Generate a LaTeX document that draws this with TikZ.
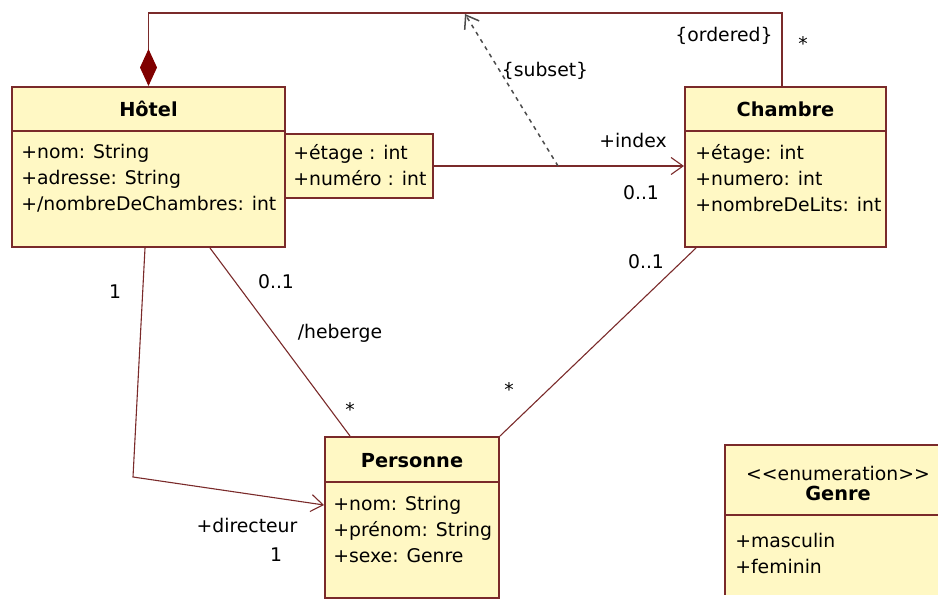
\documentclass[tikz,border=0pt]{standalone}
\usepackage{fontspec}
\setmainfont{DejaVu Sans}
\usepackage{tikz}
\usetikzlibrary{arrows.meta}

\definecolor{classfill}{HTML}{FFF8C4}
\definecolor{classline}{HTML}{7A2A2A}
\definecolor{compo}{HTML}{800000}

\begin{document}
\begin{tikzpicture}[x=0.2mm,y=-0.2mm,
    font=\fontsize{10.7}{14}\selectfont,
    classbox/.style={draw=classline, fill=classfill, line width=0.4mm, inner sep=0pt},
    sepline/.style={draw=classline, line width=0.4mm},
    title/.style={anchor=base, inner sep=0pt, font=\fontsize{11}{13}\selectfont\bfseries},
    attr/.style={anchor=base west, inner sep=0pt},
    lbl/.style={inner sep=0pt},
    assoc/.style={draw=classline, line width=0.22mm},
    navig/.style={assoc, -{Straight Barb[length=2.4mm,width=3.4mm]}}
  ]
  \useasboundingbox (0,0) rectangle (938,603);

  % classes
  \node[classbox, minimum width=54.6mm, minimum height=32mm] (hotel) at (148.5,167) {};
  \node[classbox, minimum width=29.6mm, minimum height=12.8mm] (qual) at (359,166) {};
  \node[classbox, minimum width=40.2mm, minimum height=32mm] (chambre) at (785.5,167) {};
  \node[classbox, minimum width=34.8mm, minimum height=32.2mm] (personne) at (412,517.5) {};
  \begin{scope}
    \clip (0,0) rectangle (938,594);
    \node[classbox, minimum width=47mm, minimum height=35mm] (genre) at (842.5,532.5) {};
    \draw[sepline] (genre.west |- 0,515) -- (genre.east |- 0,515);
  \end{scope}
  \draw[sepline] (hotel.west |- 0,131) -- (hotel.east |- 0,131);
  \draw[sepline] (chambre.west |- 0,131) -- (chambre.east |- 0,131);
  \draw[sepline] (personne.west |- 0,482) -- (personne.east |- 0,482);

  \node[title] (hotel-t) at (148.5,117) {Hôtel};
  \node[title] (chambre-t) at (785.5,117) {Chambre};
  \node[title] (personne-t) at (412,467) {Personne};
  \node[anchor=base, inner sep=0pt] (genre-s) at (838,480)
    {\symbol{60}\symbol{60}enumeration\symbol{62}\symbol{62}};
  \node[title] (genre-t) at (838,500) {Genre};

  \foreach \t [count=\i] in {+nom: String, +adresse: String, +/nombreDeChambres: int}
    \node[attr] (hotel-\i) at (21,159+26*\i-26) {\t};
  \foreach \t [count=\i] in {+étage : int, +numéro : int}
    \node[attr] (qual-\i) at (293,160+26*\i-26) {\t};
  \foreach \t [count=\i] in {+étage: int, +numero: int, +nombreDeLits: int}
    \node[attr] (chambre-\i) at (695,160+26*\i-26) {\t};
  \foreach \t [count=\i] in {+nom: String, +prénom: String, +sexe: Genre}
    \node[attr] (personne-\i) at (333,510+26*\i-26) {\t};
  \foreach \t [count=\i] in {+masculin, +feminin}
    \node[attr] (genre-\i) at (735,547+26*\i-26) {\t};

  % associations
  \draw[assoc, {Diamond[length=7.4mm,width=3.4mm,color=compo]}-]
    (hotel.north) -- (hotel.north |- 0,13) -| ([xshift=-0.7mm]chambre.north);
  \draw[navig] (qual.east) -- (chambre.west |- qual.east);
  \coordinate (subsetfoot) at (558,166);
  \coordinate (subsethead) at (465,14);
  \draw[assoc, draw=black!70, line width=0.3mm, dash pattern=on 0.8mm off 0.9mm,
    -{Straight Barb[length=2.4mm,width=3.4mm]}] (subsetfoot) -- (subsethead);
  \coordinate (dirbend) at (133,477);
  \draw[navig] ([xshift=-0.7mm]hotel.south) -- (dirbend) -- (personne.west |- 0,505);
  \draw[assoc] ([xshift=12.3mm]hotel.south) -- ([xshift=-12.4mm]personne.north);
  \draw[assoc] ([xshift=2.4mm]chambre.south west) -- (personne.north east);

  % labels
  \node[lbl] (ordered) at (724,36) {\{ordered\}};
  \node[lbl] (ordered-m) at (803,44) {*};
  \node[lbl] (subset) at (545,71) {\{subset\}};
  \node[lbl] (index) at (633,140) {+index};
  \node[lbl] (index-m) at (641,193) {0..1};
  \node[lbl] (dir-m1) at (115,292) {1};
  \node[lbl] (dir) at (247,525) {+directeur};
  \node[lbl] (dir-m2) at (276,555) {1};
  \node[lbl] (heb-m1) at (276,282) {0..1};
  \node[lbl] (heb) at (340,333) {/heberge};
  \node[lbl] (heb-m2) at (350,410) {*};
  \node[lbl] (ch-m1) at (646,262) {0..1};
  \node[lbl] (ch-m2) at (509,390) {*};
\end{tikzpicture}
\end{document}
